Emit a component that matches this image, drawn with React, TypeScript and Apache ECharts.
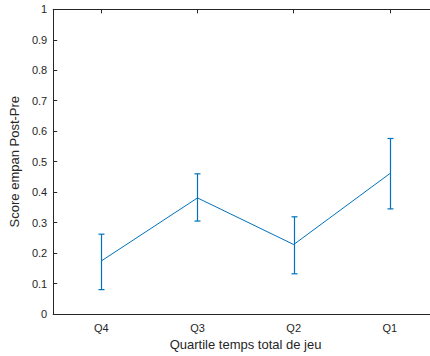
import React, { useEffect, useRef } from "react";
import * as echarts from "echarts";

const categories = ["Q4", "Q3", "Q2", "Q1"];
const means = [0.174, 0.381, 0.228, 0.461];
const lowers = [0.080, 0.305, 0.132, 0.345];
const uppers = [0.262, 0.460, 0.319, 0.576];
const yTicks = [0, 0.1, 0.2, 0.3, 0.4, 0.5, 0.6, 0.7, 0.8, 0.9, 1];

const BLUE = "#0072BD";
const AX = "#262626";
const FONT = "Liberation Sans";

export default function App() {
  const ref = useRef<HTMLDivElement>(null);
  useEffect(() => {
    document.body.style.margin = "0";
    document.body.style.overflow = "hidden";
    const chart = echarts.init(ref.current!, null, { renderer: "svg" });
    const errData = categories.map((c, i) => [i, lowers[i], uppers[i]]);
    chart.setOption({
      animation: false,
      backgroundColor: "#ffffff",
      grid: { left: 52, top: 9.3, width: 386, height: 304.7, containLabel: false },
      xAxis: [
        {
          type: "category",
          data: categories,
          boundaryGap: true,
          position: "bottom",
          name: "Quartile temps total de jeu",
          nameLocation: "middle",
          nameGap: 24,
          nameTextStyle: { color: AX, fontFamily: FONT, fontSize: 13 },
          axisLine: { onZero: false, lineStyle: { color: AX, width: 1 } },
          axisTick: { alignWithLabel: true, inside: true, length: 4, lineStyle: { color: AX } },
          axisLabel: { color: AX, fontFamily: FONT, fontSize: 11, margin: 8 },
          splitLine: { show: false },
        },
        {
          type: "category",
          data: categories,
          boundaryGap: true,
          position: "top",
          axisLine: { show: true, onZero: false, lineStyle: { color: AX, width: 1 } },
          axisTick: { show: true, alignWithLabel: true, inside: true, length: 4, lineStyle: { color: AX } },
          axisLabel: { show: false },
          splitLine: { show: false },
        },
      ],
      yAxis: [
        {
          type: "value",
          min: 0,
          max: 1,
          interval: 0.1,
          position: "left",
          name: "Score empan Post-Pre",
          nameLocation: "middle",
          nameGap: 27,
          nameTextStyle: { color: AX, fontFamily: FONT, fontSize: 13 },
          axisLine: { show: true, onZero: false, lineStyle: { color: AX, width: 1 } },
          axisTick: { show: true, inside: true, length: 4, lineStyle: { color: AX } },
          axisLabel: {
            color: AX,
            fontFamily: FONT,
            fontSize: 11,
            margin: 6,
            formatter: (v: number) => {
              const r = Math.round(v * 10) / 10;
              return yTicks.includes(r) ? String(r) : "";
            },
          },
          splitLine: { show: false },
        },
        {
          type: "value",
          min: 0,
          max: 1,
          interval: 0.1,
          position: "right",
          axisLine: { show: true, onZero: false, lineStyle: { color: AX, width: 1 } },
          axisTick: { show: true, inside: true, length: 4, lineStyle: { color: AX } },
          axisLabel: { show: false },
          splitLine: { show: false },
        },
      ],
      series: [
        {
          type: "line",
          data: means,
          showSymbol: false,
          symbol: "none",
          lineStyle: { color: BLUE, width: 1 },
          itemStyle: { color: BLUE },
          z: 3,
        },
        {
          type: "custom",
          data: errData,
          z: 4,
          renderItem: (params: any, api: any) => {
            const x = api.value(0);
            const lo = api.coord([x, api.value(1)]);
            const hi = api.coord([x, api.value(2)]);
            const cx = Math.round(lo[0]) + 0.5;
            const w = 3;
            const style = { stroke: BLUE, lineWidth: 1.2, fill: "none" };
            return {
              type: "group",
              children: [
                { type: "line", shape: { x1: cx, y1: hi[1], x2: cx, y2: lo[1] }, style },
                { type: "line", shape: { x1: cx - w, y1: hi[1], x2: cx + w, y2: hi[1] }, style },
                { type: "line", shape: { x1: cx - w, y1: lo[1], x2: cx + w, y2: lo[1] }, style },
              ],
            };
          },
        },
      ],
    });
    return () => chart.dispose();
  }, []);
  return (
    <div style={{ position: "fixed", left: 0, top: 0, width: 430, height: 356, overflow: "hidden", background: "#fff" }}>
      <div ref={ref} style={{ width: 460, height: 356 }} />
    </div>
  );
}
